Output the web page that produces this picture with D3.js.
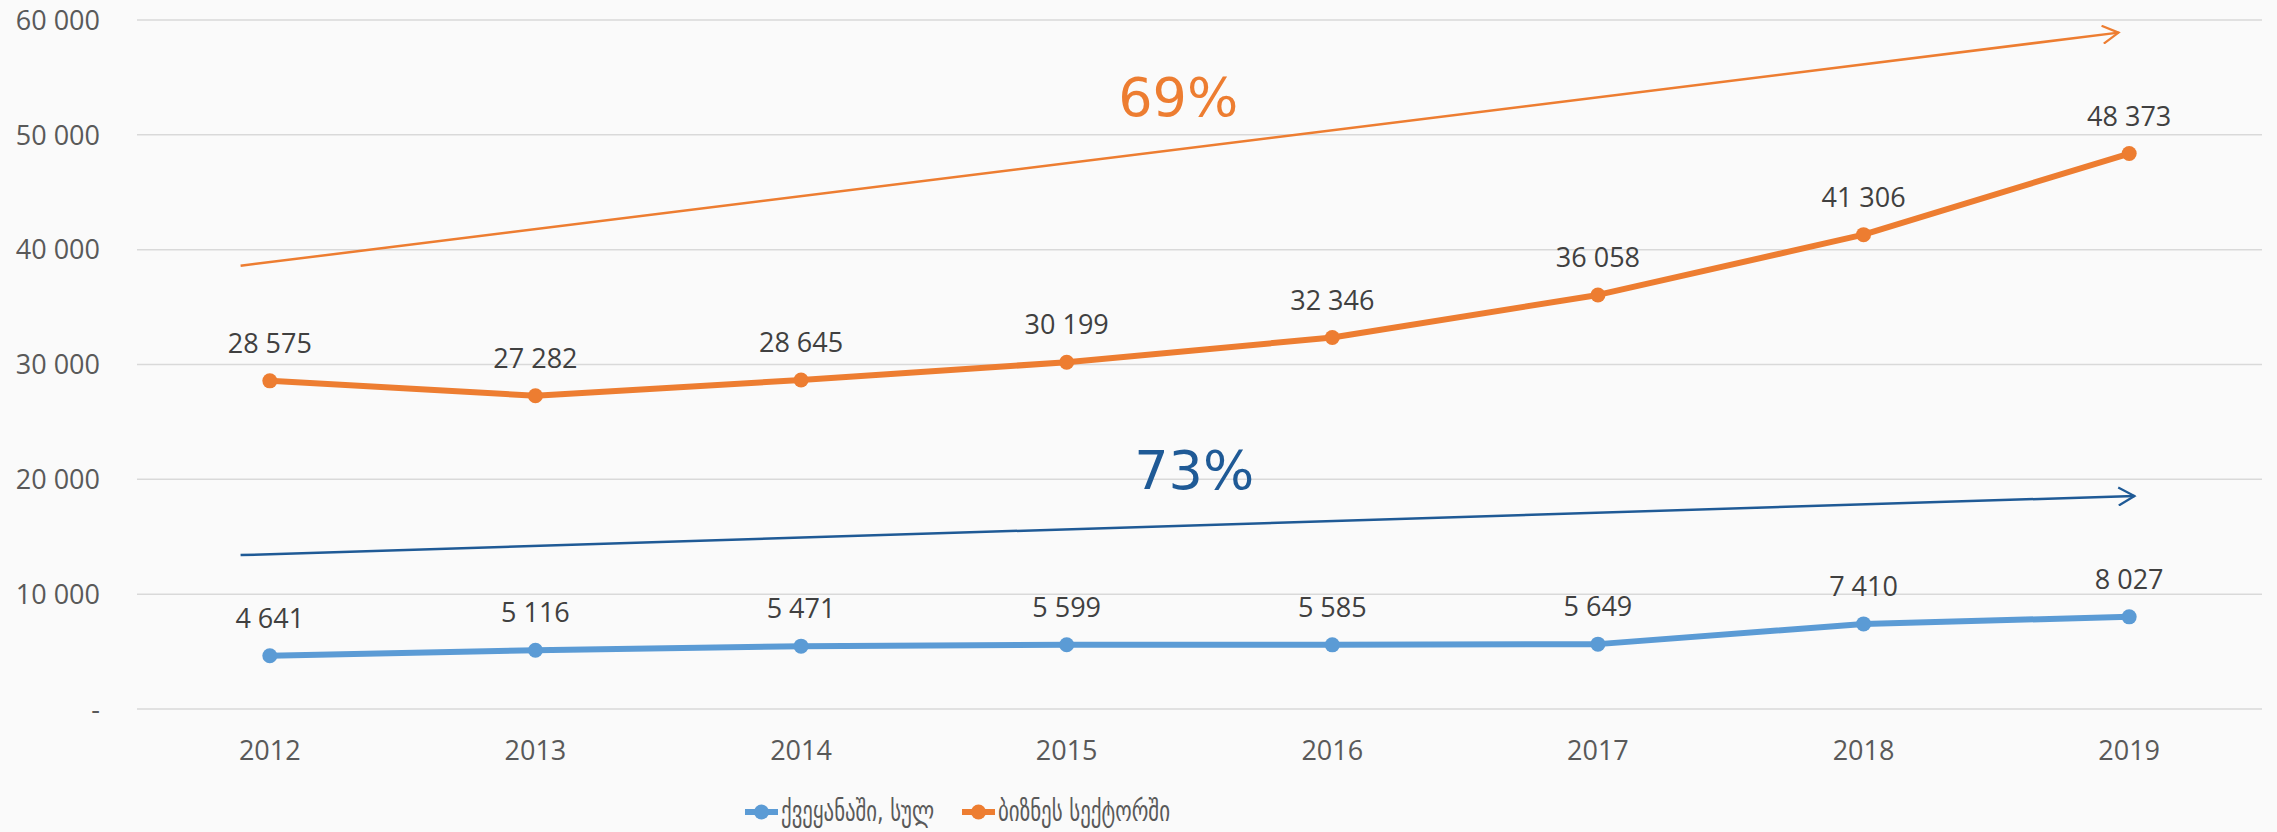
<!DOCTYPE html>
<html>
<head>
<meta charset="utf-8">
<script src="https://cdn.jsdelivr.net/npm/d3@7"></script>
<style>
 body { margin:0; background:#fafafa; }
 svg { display:block; }
 text { font-family:'Open Sans', sans-serif; }
</style>
</head>
<body>
<svg width="2277" height="832"></svg>
<script>
// Data.
var years = ['2012','2013','2014','2015','2016','2017','2018','2019'];
var countryTotal = [4641, 5116, 5471, 5599, 5585, 5649, 7410, 8027];
var businessSector = [28575, 27282, 28645, 30199, 32346, 36058, 41306, 48373];
var yTicks = [0, 10000, 20000, 30000, 40000, 50000, 60000];
var seriesNames = ['ქვეყანაში, სულ', 'ბიზნეს სექტორში'];
var seriesColors = ['#5b9bd5', '#ed7d31'];
// Growth arrows: [x index start, value start, x index end, value end], label
var growthArrows = [
 {from:[-0.11, 38600], to:[6.96, 58900], label:'69%', labelAt:[3.42, 51600], color:'#ed7d31'},
 {from:[-0.11, 13400], to:[7.02, 18550], label:'73%', labelAt:[3.48, 19200], color:'#1f5a96'}
];

var svg = d3.select('svg');
var margin = {top:20, right:15, bottom:123, left:137};
var width = 2277 - margin.left - margin.right;
var height = 832 - margin.top - margin.bottom;
var graphic = svg.append('g').attr('transform', 'translate(' + margin.left + ',' + margin.top + ')');

var x = d3.scalePoint().domain(d3.range(years.length)).range([0, width]).padding(0.5);
var xi = d3.scaleLinear().domain([0, years.length - 1]).range([x(0), x(years.length - 1)]);
var y = d3.scaleLinear().domain([0, 60000]).range([height, 0]);

var loc = d3.formatLocale({decimal:',', thousands:' ', grouping:[3], currency:['','']});
var fmt = loc.format(',d');

// Gridlines and y labels.
graphic.append('g')
 .selectAll('line')
 .data(yTicks)
 .enter().append('line')
 .attr('x1', 0).attr('x2', width)
 .attr('y1', function(d) { return y(d); })
 .attr('y2', function(d) { return y(d); })
 .attr('stroke', '#d9d9d9')
 .attr('stroke-width', 1.5);

graphic.append('g')
 .selectAll('text')
 .data(yTicks)
 .enter().append('text')
 .attr('x', -37)
 .attr('y', function(d) { return y(d); })
 .attr('dy', '0.36em')
 .attr('text-anchor', 'end')
 .attr('fill', '#595959')
 .style('font-size', '27px')
 .text(function(d) { return d === 0 ? '-' : fmt(d); });

// X labels.
graphic.append('g')
 .selectAll('text')
 .data(years)
 .enter().append('text')
 .attr('x', function(d, i) { return x(i); })
 .attr('y', height + 51)
 .attr('text-anchor', 'middle')
 .attr('fill', '#595959')
 .style('font-size', '27px')
 .text(function(d) { return d; });

// Arrows.
var defs = svg.append('defs');
growthArrows.forEach(function(a, k) {
 defs.append('marker')
  .attr('id', 'arr' + k)
  .attr('viewBox', '0 0 20 20')
  .attr('refX', 18).attr('refY', 10)
  .attr('markerWidth', 20).attr('markerHeight', 20)
  .attr('markerUnits', 'userSpaceOnUse')
  .attr('orient', 'auto')
  .append('path')
  .attr('d', 'M2,1 L18,10 L2,19')
  .attr('fill', 'none')
  .attr('stroke', a.color)
  .attr('stroke-width', 2.2);

 graphic.append('line')
  .attr('x1', xi(a.from[0])).attr('y1', y(a.from[1]))
  .attr('x2', xi(a.to[0])).attr('y2', y(a.to[1]))
  .attr('stroke', a.color)
  .attr('stroke-width', 2.5)
  .attr('marker-end', 'url(#arr' + k + ')');

 graphic.append('text')
  .attr('x', xi(a.labelAt[0]))
  .attr('y', y(a.labelAt[1]))
  .attr('text-anchor', 'middle')
  .attr('fill', a.color)
  .style('font-family', 'DejaVu Sans, sans-serif')
  .style('font-size', '54px')
  .text(a.label);
});

// Lines, markers, labels.
var line = d3.line()
 .x(function(d, i) { return x(i); })
 .y(function(d) { return y(d); });

[countryTotal, businessSector].forEach(function(values, k) {
 graphic.append('path')
  .datum(values)
  .attr('d', line)
  .attr('fill', 'none')
  .attr('stroke', seriesColors[k])
  .attr('stroke-width', 6)
  .attr('stroke-linejoin', 'round');

 graphic.append('g')
  .selectAll('circle')
  .data(values)
  .enter().append('circle')
  .attr('cx', function(d, i) { return x(i); })
  .attr('cy', function(d) { return y(d); })
  .attr('r', 7.5)
  .attr('fill', seriesColors[k]);

 graphic.append('g')
  .selectAll('text')
  .data(values)
  .enter().append('text')
  .attr('x', function(d, i) { return x(i); })
  .attr('y', function(d) { return y(d) - 28; })
  .attr('text-anchor', 'middle')
  .attr('fill', '#404040')
  .style('font-size', '27px')
  .text(function(d) { return fmt(d); });
});

// Legend.
var legend = svg.append('g')
 .selectAll('g')
 .data(seriesNames)
 .enter().append('g')
 .attr('transform', function(d, i) { return 'translate(' + (745 + i * 217) + ',812)'; });

legend.append('line')
 .attr('x1', 0).attr('x2', 33)
 .attr('stroke', function(d, i) { return seriesColors[i]; })
 .attr('stroke-width', 6);

legend.append('circle')
 .attr('cx', 16.5)
 .attr('r', 7.5)
 .attr('fill', function(d, i) { return seriesColors[i]; });

legend.append('text')
 .attr('x', 36)
 .attr('dy', '0.3em')
 .attr('fill', '#595959')
 .style('font-family', 'DejaVu Sans Condensed, DejaVu Sans, sans-serif')
 .style('font-size', '29px')
 .attr('textLength', function(d, i) { return i === 0 ? 153 : 172; })
 .attr('lengthAdjust', 'spacingAndGlyphs')
 .text(function(d) { return d; });
</script>
</body>
</html>
